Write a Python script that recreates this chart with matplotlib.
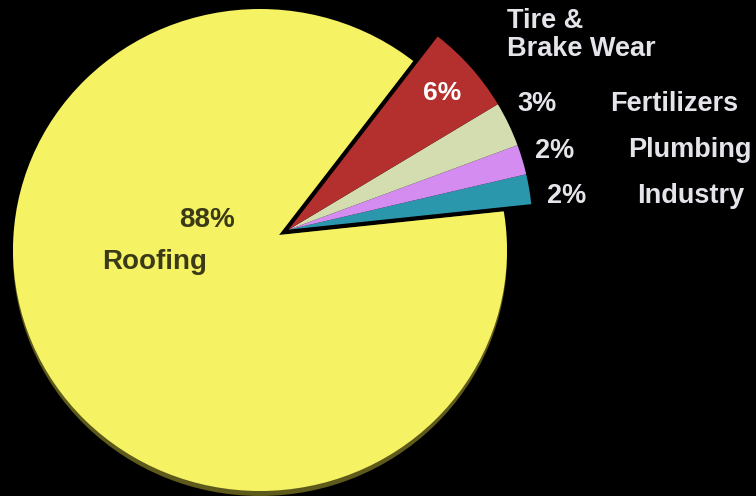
import matplotlib.pyplot as plt
from matplotlib.patches import Ellipse
import numpy as np

## data

sources = ['Industry', 'Plumbing', 'Fertilizers', 'Tire &\nBrake Wear', 'Roofing']
shares = [2, 2, 3, 6, 88]
colors = ['#2a97ad', '#d48cf0', '#d4ddb0', '#b3302f', '#f5f263']

## figure in pixel units

fig = plt.figure(figsize=(7.56, 4.96), dpi=100, facecolor='black')
ax = fig.add_axes([0, 0, 1, 1])
ax.set_facecolor('black')

apex = (279, 261)        # tip of the slices
disc = (260, 246)        # middle of the round outline
rx, ry = 247, 241
radius = 244
start = 6

# dark rim under the big slice gives it a bit of thickness
rim, _ = ax.pie(shares, colors=['none'] * 4 + ['#5e5a1c'], startangle=start,
                counterclock=True, radius=radius, center=apex,
                wedgeprops=dict(linewidth=0), frame=True)

wedges, _ = ax.pie(shares, colors=colors, startangle=start, counterclock=True,
                   radius=radius, center=apex,
                   wedgeprops=dict(linewidth=0), frame=True)

# big slice: oversize it and trim to the round outline
for w, dy in ((rim[4], -5), (wedges[4], 0)):
    w.set_radius(radius + 60)
    clip = Ellipse((disc[0], disc[1] + dy), 2 * rx, 2 * ry, transform=ax.transData)
    w.set_clip_on(True)
    w.set_clip_path(clip)

# pull the small slices out together along their common bisector
small = sum(shares[:4]) / sum(shares) * 360
mid = np.deg2rad(start + small / 2)
shift = 0.045 * radius
for w in wedges[:4]:
    w.set_center((apex[0] + shift * np.cos(mid), apex[1] + shift * np.sin(mid)))

ax.set_xlim(0, 756)
ax.set_ylim(0, 496)
ax.set_aspect('auto')
ax.axis('off')

## labels

dark = '#3a3918'
light = '#e4e4ea'
font = 'Liberation Sans'

ax.text(207, 276, f'{shares[4]}%', color=dark, fontsize=20, fontweight='bold',
        family=font, ha='center', va='center')
ax.text(155, 234, sources[4], color=dark, fontsize=20, fontweight='bold',
        family=font, ha='center', va='center')

ax.text(442, 403, f'{shares[3]}%', color='white', fontsize=19, fontweight='bold',
        family=font, ha='center', va='center')
ax.text(507, 461, sources[3], color=light, fontsize=19.5, fontweight='bold',
        family=font, ha='left', va='center', linespacing=1.1)

ax.text(537, 392, f'{shares[2]}%', color=light, fontsize=19.5, fontweight='bold',
        family=font, ha='center', va='center')
ax.text(610, 392, sources[2], color=light, fontsize=19.5, fontweight='bold',
        family=font, ha='left', va='center')

ax.text(555, 345, f'{shares[1]}%', color=light, fontsize=19.5, fontweight='bold',
        family=font, ha='center', va='center')
ax.text(628, 346, sources[1], color=light, fontsize=19.5, fontweight='bold',
        family=font, ha='left', va='center')

ax.text(567, 300, f'{shares[0]}%', color=light, fontsize=19.5, fontweight='bold',
        family=font, ha='center', va='center')
ax.text(637, 300, sources[0], color=light, fontsize=19.5, fontweight='bold',
        family=font, ha='left', va='center')

plt.savefig('out.png', dpi=100, facecolor='black')
